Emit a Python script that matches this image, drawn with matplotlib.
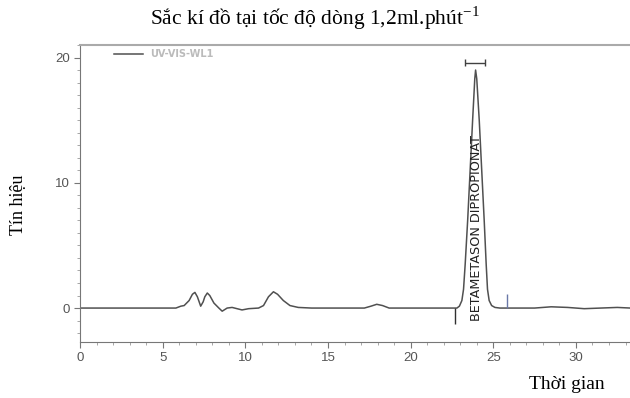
import matplotlib.pyplot as plt
from matplotlib.ticker import MultipleLocator

serif = 'Liberation Serif'
plt.rcParams['mathtext.fontset'] = 'custom'
plt.rcParams['mathtext.rm'] = serif

# dữ liệu đọc từ sắc kí đồ (thời gian [phút], tín hiệu)
time = [0, 5.8, 6.1, 6.3, 6.6, 6.8, 6.95, 7.1, 7.3, 7.45, 7.55, 7.7, 7.85, 8.1, 8.4,
        8.6, 8.9, 9.2, 9.5, 9.8, 10.2, 10.8, 11.1, 11.4, 11.7, 11.95, 12.3, 12.7, 13.2,
        14.0, 17.2, 17.6, 17.95, 18.3, 18.7, 22.8, 22.95, 23.1, 23.2, 23.3, 23.45, 23.6,
        23.75, 23.88, 23.93, 24.0, 24.15, 24.3, 24.45, 24.57, 24.65, 24.75, 24.9, 25.1,
        25.4, 27.5, 28.5, 29.5, 30.5, 31.5, 32.5, 33.3]
signal = [0, 0, 0.15, 0.2, 0.6, 1.1, 1.25, 0.9, 0.15, 0.5, 0.9, 1.2, 1.0, 0.4, 0.0,
          -0.25, 0.0, 0.05, -0.05, -0.15, -0.05, 0, 0.2, 0.9, 1.3, 1.1, 0.6, 0.2, 0.05,
          0, 0, 0.15, 0.3, 0.2, 0, 0, 0.15, 0.6, 1.5, 3.5, 7.0, 11.0,
          15.0, 18.3, 19.0, 18.3, 15.0, 11.0, 7.0, 3.5, 1.5, 0.6, 0.2, 0.05,
          0, 0, 0.1, 0.05, -0.05, 0, 0.05, 0]

peak_name = "BETAMETASON DIPROPIONAT"
peak_start, peak_end = 22.7, 25.85      # vạch tích phân
peak_window = (23.3, 24.5)              # khung ở đỉnh
peak_label_x = 24.0

x_ticks = [0, 5, 10, 15, 20, 25, 30]
y_ticks = [0, 10, 20]

fig = plt.figure(figsize=(6.3, 3.98), dpi=100)
ax = fig.add_axes([0.127, 0.141, 0.873, 0.746])

ax.plot(time, signal, color='#505050', lw=1.1, label='UV-VIS-WL1')

# vạch bắt đầu / kết thúc pic
ax.vlines(peak_start, -1.3, 0, color='#303030', lw=1)
ax.vlines(peak_end, 0, 1.1, color='#6a78a8', lw=1)

# khung cửa sổ ở đỉnh
ax.hlines(19.6, peak_window[0], peak_window[1], color='#404040', lw=1)
ax.vlines(list(peak_window), 19.3, 19.9, color='#404040', lw=1)

ax.text(peak_label_x, -1.0, peak_name, rotation=90, ha='center', va='bottom',
        fontsize=9.2, color='#222222', family=['Liberation Sans Narrow', 'DejaVu Sans'])

ax.set_xlim(0, 33.27)
ax.set_ylim(-2.7, 21.0)
ax.set_xticks(x_ticks)
ax.set_yticks(y_ticks)
ax.xaxis.set_minor_locator(MultipleLocator(1))
ax.yaxis.set_minor_locator(MultipleLocator(1))
ax.tick_params(which='major', length=4, color='#777777', labelcolor='#555555',
               labelsize=9.5)
ax.tick_params(which='minor', length=2, color='#999999')
for lab in ax.get_xticklabels() + ax.get_yticklabels():
    lab.set_family('Liberation Sans')

ax.spines['right'].set_visible(False)
for s in ['left', 'bottom']:
    ax.spines[s].set_color('#777777')
ax.spines['top'].set_color('#aaaaaa')
ax.spines['top'].set_linewidth(1.5)

leg = ax.legend(loc='upper left', bbox_to_anchor=(0.045, 1.015), frameon=False,
                fontsize=7, handlelength=3.0, labelcolor='#bbbbbb')
for t in leg.get_texts():
    t.set_weight('bold')

fig.text(0.5, 0.955, r"Sắc kí đồ tại tốc độ dòng 1,2ml.phút$^{\mathregular{-1}}$",
         ha='center', va='center', fontsize=15.5, family=serif)
fig.text(0.03, 0.485, "Tín hiệu", rotation=90, ha='center', va='center',
         fontsize=13, family=serif)
fig.text(0.9, 0.035, "Thời gian", ha='center', va='center', fontsize=14,
         family=serif)

fig.savefig('out.png', dpi=100)
